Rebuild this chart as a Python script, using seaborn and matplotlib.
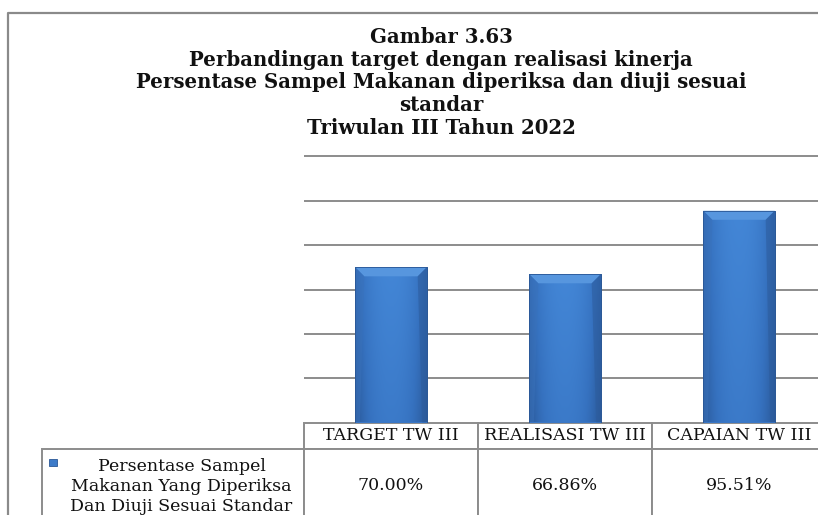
import numpy as np
import pandas as pd
import matplotlib
matplotlib.use("Agg")
import matplotlib.pyplot as plt
import seaborn as sns
from matplotlib.table import Table
from matplotlib.patches import Polygon, Rectangle
from matplotlib.lines import Line2D
from matplotlib.colors import LinearSegmentedColormap

# ---- data -------------------------------------------------------------
categories = ["TARGET TW III", "REALISASI TW III", "CAPAIAN TW III"]
values = [70.00, 66.86, 95.51]
series_label = "Persentase Sampel\nMakanan Yang Diperiksa\nDan Diuji Sesuai Standar"
title_lines = [
    "Gambar 3.63",
    "Perbandingan target dengan realisasi kinerja",
    "Persentase Sampel Makanan diperiksa dan diuji sesuai",
    "standar",
    "Triwulan III Tahun 2022",
]
y_ticks = [20, 40, 60, 80, 100, 120]

# ---- figure / layout (pixel based) -------------------------------------
W, H = 818, 515
sns.set_theme(style="white")
plt.rcParams["font.family"] = ["DejaVu Serif", "DejaVu Sans"]

fig = plt.figure(figsize=(W / 100, H / 100), dpi=100)
fig.patch.set_facecolor("white")

ymax = 121
px_per_unit = 266 / 120
ax_left, ax_right = 304, 826
ax_bottom = 422.5
ax_h_px = px_per_unit * ymax
ax_w_px = ax_right - ax_left
px_per_cat = ax_w_px / len(categories)
ax = fig.add_axes([ax_left / W, 1 - ax_bottom / H, ax_w_px / W, ax_h_px / H])

grid_col = "#8c8c8c"
text_col = "#111111"

# ---- bars -------------------------------------------------------------
df = pd.DataFrame({"kategori": categories, "nilai": values})
sns.barplot(data=df, x="kategori", y="nilai", width=0.41, color="#3a77c6",
            saturation=1, edgecolor="#2a5796", linewidth=0.6, ax=ax, zorder=3)

ax.set_yticks(y_ticks)
ax.yaxis.grid(True, color=grid_col, linewidth=1.4)
ax.xaxis.grid(False)
ax.set_axisbelow(True)
ax.tick_params(left=False, bottom=False, labelleft=False, labelbottom=False)
for s in ax.spines.values():
    s.set_visible(False)
ax.set_xlabel("")
ax.set_ylabel("")

# bevelled, shaded look of the bars
cmap = LinearSegmentedColormap.from_list("barshade", ["#2a5898", "#3672c0", "#4386d6"])
bevel_dy = 9 / px_per_unit
bevel_dx = 9 / px_per_cat
for bar in list(ax.patches):
    x0, y0 = bar.get_x(), bar.get_y()
    w, h = bar.get_width(), bar.get_height()
    xs = np.linspace(-1, 1, 80)
    ys = np.linspace(0, 1, 80)
    horiz = 1 - np.abs(xs) ** 2.2
    shade = 0.7 * horiz[None, :] + 0.3 * ys[:, None]
    img = ax.imshow(shade, extent=[x0, x0 + w, y0, y0 + h], origin="lower",
                    cmap=cmap, vmin=0, vmax=1, aspect="auto", zorder=3.5,
                    interpolation="bilinear")
    img.set_clip_path(bar)
    top = y0 + h
    ax.add_patch(Polygon([(x0, top), (x0 + w, top), (x0 + w - bevel_dx, top - bevel_dy),
                          (x0 + bevel_dx, top - bevel_dy)], closed=True,
                         facecolor="#5796de", edgecolor="none", zorder=4))
    ax.add_patch(Polygon([(x0 + w, top), (x0 + w, y0), (x0 + w - bevel_dx * 0.5, y0),
                          (x0 + w - bevel_dx, top - bevel_dy)], closed=True,
                         facecolor="#2d5c9c", edgecolor="none", alpha=0.55, zorder=4))
    ax.add_patch(Polygon([(x0, top), (x0, y0), (x0 + bevel_dx * 0.5, y0),
                          (x0 + bevel_dx, top - bevel_dy)], closed=True,
                         facecolor="#3a72bb", edgecolor="none", alpha=0.5, zorder=4))
    ax.add_patch(Rectangle((x0, y0), w, h, facecolor="none", edgecolor="#2a5796",
                           linewidth=0.6, zorder=4.5))

ax.set_xlim(-0.5, len(categories) - 0.5)
ax.set_ylim(0, ymax)

# ---- data table under the plot ----------------------------------------
hdr_h = 26.5 / ax_h_px
row_h = 74 / ax_h_px
lab_w = (ax_left - 42) / ax_w_px
# bbox covers the value grid only; the row-label column sits to its left
tbl = Table(ax, bbox=[0, -(hdr_h + row_h), 1, hdr_h + row_h])
for j, cat in enumerate(categories):
    tbl.add_cell(0, j, width=1 / 3, height=hdr_h, text=cat, loc="center",
                 edgecolor=grid_col, facecolor="white")
    tbl.add_cell(1, j, width=1 / 3, height=row_h, text=f"{values[j]:.2f}%", loc="center",
                 edgecolor=grid_col, facecolor="white")
tbl.add_cell(1, -1, width=lab_w, height=row_h, text="", loc="center",
             edgecolor=grid_col, facecolor="white")
tbl.auto_set_font_size(False)
for cell in tbl.get_celld().values():
    cell.set_linewidth(1.4)
    t = cell.get_text()
    t.set_fontsize(12.5)
    t.set_fontfamily("DejaVu Serif")
    t.set_color(text_col)
ax.add_table(tbl)

# series name with its legend key
ax.text((181.5 - ax_left) / ax_w_px, (ax_bottom - 486.5) / ax_h_px, series_label,
        transform=ax.transAxes, ha="center", va="center", multialignment="center",
        fontsize=12.5, family="DejaVu Serif", color=text_col, linespacing=1.22,
        clip_on=False)
fig.add_artist(Rectangle((49 / W, 1 - 466 / H), 8 / W, 7 / H, transform=fig.transFigure,
                         facecolor="#3d7bc9", edgecolor="#2a5796", linewidth=0.6))

# ---- title ------------------------------------------------------------
fig.text(441 / W, 1 - 27 / H, "\n".join(title_lines), ha="center", va="top",
         fontsize=14.2, fontweight="bold", family="DejaVu Serif", color=text_col,
         linespacing=1.17)

# ---- outer frame ------------------------------------------------------
fig.add_artist(Line2D([8 / W, 8 / W, 1.0], [0, 1 - 13 / H, 1 - 13 / H],
                      color="#8a8a8a", linewidth=1.6, transform=fig.transFigure))

fig.savefig("out.png", dpi=100)
